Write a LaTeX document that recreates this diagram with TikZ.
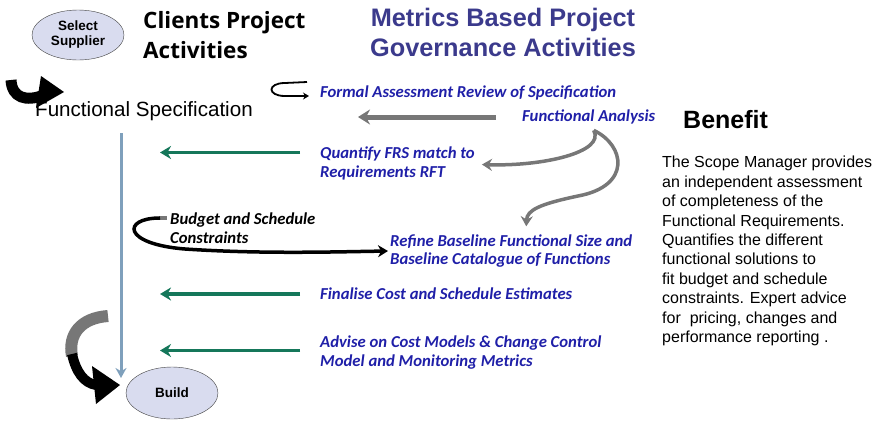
\documentclass[tikz,border=0pt]{standalone}
\usepackage{fontspec}
\setmainfont{Liberation Sans}
\newfontfamily\titlefont{Open Sans}
\newfontfamily\labelfont{Carlito}
\usetikzlibrary{arrows.meta,shapes.geometric}

\definecolor{lavender}{HTML}{D9DCEF}
\definecolor{headblue}{HTML}{3B3A8C}
\definecolor{actblue}{HTML}{1F1FA8}
\definecolor{flowgreen}{HTML}{15775A}
\definecolor{spineblue}{HTML}{7FA0BC}
\definecolor{midgrey}{HTML}{777777}

\tikzset{
  phase/.style={ellipse, draw=black!75, fill=lavender, minimum width=92pt,
    minimum height=50pt, inner sep=0pt, align=center,
    font=\bfseries\fontsize{13.5}{15}\selectfont},
  activity/.style={anchor=west, inner sep=0pt, align=left, text=actblue,
    font=\labelfont\bfseries\itshape\fontsize{16.7}{18.5}\selectfont},
  feedback/.style={flowgreen, line width=3.5pt, -{Stealth[length=11pt,width=13pt]}},
  greyflow/.style={midgrey, line width=3.5pt, -{Stealth[length=10pt,width=12pt]}},
}

\begin{document}
\begin{tikzpicture}[x=1pt,y=-1pt]
    \useasboundingbox (0,0) rectangle (875,426);

    % client side
    \node[phase] (supplier) at (78,35) {Select\\Supplier};
    \node[anchor=north west, inner sep=0pt, align=left,
      font=\titlefont\bfseries\fontsize{22.5}{30}\selectfont] (clients) at (143,11)
      {Clients Project\\Activities};
    \node[anchor=west, inner sep=0pt, font=\fontsize{20.6}{24}\selectfont] (fs) at (35,111)
      {Functional Specification};
    \node[phase, minimum width=92pt, minimum height=52pt] (build) at (172,393) {Build};

    % governance side
    \node[anchor=north, inner sep=0pt, align=center, text=headblue,
      font=\bfseries\fontsize{25.3}{30}\selectfont] (metrics) at (503,8)
      {Metrics Based Project\\Governance Activities};
    \node[activity] (formal) at (320,93) {Formal Assessment Review of Specification};
    \node[activity] (fa) at (522,117) {Functional Analysis};
    \node[activity] (quant) at (320,163.5) {Quantify FRS match to\\Requirements RFT};
    \node[activity, text=black] (budget) at (170,228) {Budget and Schedule\\Constraints};
    \node[activity] (refine) at (390,251) {Refine Baseline Functional Size and\\Baseline Catalogue of Functions};
    \node[activity] (fin) at (320,294) {Finalise Cost and Schedule Estimates};
    \node[activity] (advise) at (320,352.5) {Advise on Cost Models \& Change Control\\Model and Monitoring Metrics};

    % benefit
    \node[anchor=west, inner sep=0pt, font=\bfseries\fontsize{25}{28}\selectfont] (benefit) at (683,120) {Benefit};
    \node[anchor=north west, inner sep=0pt, align=left,
      font=\fontsize{16}{19.4}\selectfont] (text) at (662,156)
      {The Scope Manager provides\\an independent assessment\\of completeness of the\\Functional Requirements.\\Quantifies the different\\functional solutions to\\fit budget and schedule\\constraints. Expert advice\\for\ \ pricing, changes and\\performance reporting .};

    \coordinate (spinetop) at (121,133);
    \coordinate (spinebot) at (121,378);
    \coordinate (faend) at (358,117);

    \draw[spineblue, line width=3pt, -{Stealth[length=10pt,width=11pt]}] (spinetop) -- (spinebot);
    \draw[midgrey, line width=5pt, -{Stealth[length=12pt,width=15pt]}] ([xshift=-26pt]fa.west) -- (faend);
    \draw[line width=1.8pt, -{Stealth[length=6pt,width=7pt]}]
      ([xshift=-13pt,yshift=11pt]formal.west) -- ++(-22,1)
      .. controls +(-18,0) and +(-18,0) .. ++(0,13) -- ++(24,0);

    \draw[feedback] ([xshift=-20pt,yshift=11pt]quant.west) -- ++(-140,0);
    \draw[feedback] ([xshift=-20pt]fin.west) -- ++(-140,0);
    \draw[feedback] ([xshift=-20pt,yshift=2pt]advise.west) -- ++(-140,0);

    \draw[greyflow] ([xshift=5pt,yshift=-6pt]fa.south)
      .. controls +(12,22) and +(60,2) .. ([xshift=7pt,yshift=-1pt]quant.east);
    \draw[greyflow] ([xshift=5pt,yshift=-6pt]fa.south)
      .. controls (625,145) and (632,186) .. (578,196)
      .. controls (540,204) and (527,210) .. ([xshift=15pt,yshift=8pt]refine.north);

    \draw[midgrey, line width=4pt] ([xshift=-3pt,yshift=10pt]budget.west) -- ++(-8,0);
    \draw[line width=3.5pt, -{Stealth[length=10pt,width=12pt]}] ([xshift=-10pt,yshift=10pt]budget.west)
      .. controls (122,218) and (122,244) .. (185,249)
      .. controls (260,254) and (330,252) .. ([xshift=-2pt]refine.west);

    % block arrows
    \draw[line width=11pt] (11,80) .. controls (12,98) and (26,102) .. (44,95);
    \fill (41,76) -- (64,92) -- (36,108) -- cycle;
    \draw[midgrey, line width=12pt] (108,316) .. controls (80,318) and (68,335) .. (72,356);
    \draw[line width=10pt] (72,354) .. controls (76,372) and (84,383) .. (96,385);
    \fill (92,366) -- (120,385) -- (96,404) -- cycle;
\end{tikzpicture}
\end{document}
